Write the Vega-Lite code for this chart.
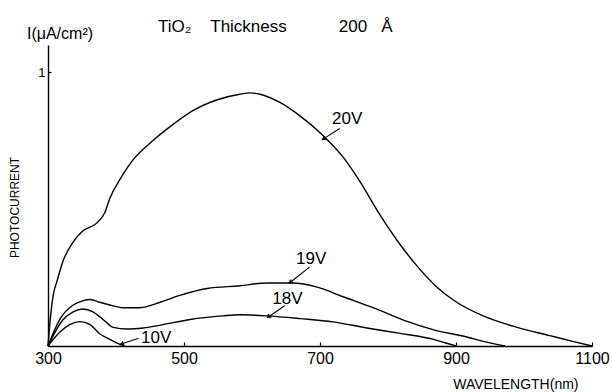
{
  "$schema": "https://vega.github.io/schema/vega-lite/v6.json",
  "width": 544,
  "height": 301,
  "autosize": "none",
  "padding": {"left": 48, "top": 45, "right": 20, "bottom": 46},
  "background": "white",
  "config": {"view": {"stroke": null}, "font": "Liberation Sans"},
  "title": {
    "text": "TiO₂\u00a0\u00a0\u00a0\u00a0Thickness\u00a0\u00a0\u00a0\u00a0\u00a0\u00a0\u00a0\u00a0\u00a0\u00a0\u00a0200\u00a0\u00a0\u00a0Å",
    "anchor": "start",
    "frame": "group",
    "dx": 110,
    "offset": 0,
    "dy": 23,
    "baseline": "alphabetic",
    "font": "Liberation Sans",
    "fontSize": 17,
    "fontWeight": "normal",
    "color": "black"
  },
  "datasets": {
    "curves": [
      {"wavelength": 300, "current": 0, "voltage": "20V"},
      {"wavelength": 303, "current": 0.09, "voltage": "20V"},
      {"wavelength": 308, "current": 0.19, "voltage": "20V"},
      {"wavelength": 313, "current": 0.235, "voltage": "20V"},
      {"wavelength": 322, "current": 0.31, "voltage": "20V"},
      {"wavelength": 337, "current": 0.38, "voltage": "20V"},
      {"wavelength": 351, "current": 0.42, "voltage": "20V"},
      {"wavelength": 372, "current": 0.45, "voltage": "20V"},
      {"wavelength": 384, "current": 0.49, "voltage": "20V"},
      {"wavelength": 391, "current": 0.54, "voltage": "20V"},
      {"wavelength": 406, "current": 0.61, "voltage": "20V"},
      {"wavelength": 425, "current": 0.68, "voltage": "20V"},
      {"wavelength": 454, "current": 0.75, "voltage": "20V"},
      {"wavelength": 484, "current": 0.81, "voltage": "20V"},
      {"wavelength": 513, "current": 0.86, "voltage": "20V"},
      {"wavelength": 549, "current": 0.9, "voltage": "20V"},
      {"wavelength": 582, "current": 0.92, "voltage": "20V"},
      {"wavelength": 597, "current": 0.925, "voltage": "20V"},
      {"wavelength": 612, "current": 0.92, "voltage": "20V"},
      {"wavelength": 641, "current": 0.89, "voltage": "20V"},
      {"wavelength": 671, "current": 0.84, "voltage": "20V"},
      {"wavelength": 704, "current": 0.77, "voltage": "20V"},
      {"wavelength": 734, "current": 0.69, "voltage": "20V"},
      {"wavelength": 759, "current": 0.6, "voltage": "20V"},
      {"wavelength": 788, "current": 0.48, "voltage": "20V"},
      {"wavelength": 818, "current": 0.37, "voltage": "20V"},
      {"wavelength": 847, "current": 0.28, "voltage": "20V"},
      {"wavelength": 872, "current": 0.215, "voltage": "20V"},
      {"wavelength": 901, "current": 0.16, "voltage": "20V"},
      {"wavelength": 940, "current": 0.11, "voltage": "20V"},
      {"wavelength": 990, "current": 0.068, "voltage": "20V"},
      {"wavelength": 1038, "current": 0.038, "voltage": "20V"},
      {"wavelength": 1070, "current": 0.018, "voltage": "20V"},
      {"wavelength": 1100, "current": 0, "voltage": "20V"},

      {"wavelength": 300, "current": 0, "voltage": "19V"},
      {"wavelength": 318, "current": 0.1, "voltage": "19V"},
      {"wavelength": 337, "current": 0.15, "voltage": "19V"},
      {"wavelength": 351, "current": 0.165, "voltage": "19V"},
      {"wavelength": 362, "current": 0.17, "voltage": "19V"},
      {"wavelength": 376, "current": 0.16, "voltage": "19V"},
      {"wavelength": 391, "current": 0.15, "voltage": "19V"},
      {"wavelength": 410, "current": 0.14, "voltage": "19V"},
      {"wavelength": 435, "current": 0.14, "voltage": "19V"},
      {"wavelength": 465, "current": 0.16, "voltage": "19V"},
      {"wavelength": 494, "current": 0.185, "voltage": "19V"},
      {"wavelength": 534, "current": 0.21, "voltage": "19V"},
      {"wavelength": 582, "current": 0.22, "voltage": "19V"},
      {"wavelength": 622, "current": 0.23, "voltage": "19V"},
      {"wavelength": 660, "current": 0.23, "voltage": "19V"},
      {"wavelength": 696, "current": 0.215, "voltage": "19V"},
      {"wavelength": 734, "current": 0.18, "voltage": "19V"},
      {"wavelength": 778, "current": 0.14, "voltage": "19V"},
      {"wavelength": 828, "current": 0.09, "voltage": "19V"},
      {"wavelength": 866, "current": 0.06, "voltage": "19V"},
      {"wavelength": 916, "current": 0.033, "voltage": "19V"},
      {"wavelength": 945, "current": 0.014, "voltage": "19V"},
      {"wavelength": 972, "current": 0, "voltage": "19V"},

      {"wavelength": 300, "current": 0, "voltage": "18V"},
      {"wavelength": 322, "current": 0.096, "voltage": "18V"},
      {"wavelength": 337, "current": 0.125, "voltage": "18V"},
      {"wavelength": 351, "current": 0.135, "voltage": "18V"},
      {"wavelength": 366, "current": 0.125, "voltage": "18V"},
      {"wavelength": 381, "current": 0.097, "voltage": "18V"},
      {"wavelength": 396, "current": 0.068, "voltage": "18V"},
      {"wavelength": 416, "current": 0.062, "voltage": "18V"},
      {"wavelength": 440, "current": 0.066, "voltage": "18V"},
      {"wavelength": 469, "current": 0.078, "voltage": "18V"},
      {"wavelength": 509, "current": 0.097, "voltage": "18V"},
      {"wavelength": 557, "current": 0.11, "voltage": "18V"},
      {"wavelength": 582, "current": 0.114, "voltage": "18V"},
      {"wavelength": 622, "current": 0.11, "voltage": "18V"},
      {"wavelength": 671, "current": 0.1, "voltage": "18V"},
      {"wavelength": 719, "current": 0.088, "voltage": "18V"},
      {"wavelength": 769, "current": 0.066, "voltage": "18V"},
      {"wavelength": 818, "current": 0.046, "voltage": "18V"},
      {"wavelength": 866, "current": 0.025, "voltage": "18V"},
      {"wavelength": 885, "current": 0.011, "voltage": "18V"},
      {"wavelength": 901, "current": 0, "voltage": "18V"},

      {"wavelength": 300, "current": 0, "voltage": "10V"},
      {"wavelength": 318, "current": 0.052, "voltage": "10V"},
      {"wavelength": 332, "current": 0.078, "voltage": "10V"},
      {"wavelength": 347, "current": 0.089, "voltage": "10V"},
      {"wavelength": 362, "current": 0.078, "voltage": "10V"},
      {"wavelength": 376, "current": 0.045, "voltage": "10V"},
      {"wavelength": 391, "current": 0.024, "voltage": "10V"},
      {"wavelength": 406, "current": 0.006, "voltage": "10V"},
      {"wavelength": 413, "current": 0, "voltage": "10V"}
    ],
    "labels": [
      {"label": "20V", "textX": 740, "textY": 0.83, "tailX": 729, "tailY": 0.795, "tipX": 705, "tipY": 0.757},
      {"label": "19V", "textX": 687, "textY": 0.319, "tailX": 685, "tailY": 0.289, "tipX": 656, "tipY": 0.232},
      {"label": "18V", "textX": 652, "textY": 0.173, "tailX": 648, "tailY": 0.147, "tipX": 624, "tipY": 0.106},
      {"label": "10V", "textX": 459, "textY": 0.031, "tailX": 433, "tailY": 0.028, "tipX": 408, "tipY": 0.007}
    ],
    "unit": [
      {"wavelength": 300, "current": 1.1, "text": "I(μA/cm²)"}
    ]
  },
  "layer": [
    {
      "data": {"name": "curves"},
      "mark": {"type": "line", "interpolate": "monotone", "color": "black", "strokeWidth": 1.4},
      "encoding": {
        "x": {
          "field": "wavelength", "type": "quantitative",
          "scale": {"domain": [300, 1100], "nice": false, "zero": false},
          "axis": {
            "title": "WAVELENGTH(nm)",
            "values": [300, 500, 700, 900, 1100],
            "format": "d",
            "grid": false,
            "domainColor": "black", "domainWidth": 1.4,
            "tickColor": "black", "tickSize": -4, "tickWidth": 1.2,
            "labelFont": "Liberation Sans", "labelFontSize": 16, "labelColor": "black",
            "labelPadding": 8, "labelFlush": false,
            "titleFont": "Liberation Sans", "titleFontSize": 14, "titleFontWeight": "normal", "titleColor": "black",
            "titleAnchor": null, "titleAlign": "right", "titleBaseline": "alphabetic",
            "titleX": 530, "titleY": 42
          }
        },
        "y": {
          "field": "current", "type": "quantitative",
          "scale": {"domain": [0, 1.1], "nice": false},
          "axis": {
            "title": "PHOTOCURRENT",
            "values": [1],
            "format": "d",
            "grid": false,
            "domainColor": "black", "domainWidth": 1.4,
            "tickColor": "black", "tickSize": -3, "tickWidth": 1.2,
            "labelFont": "Liberation Sans", "labelFontSize": 13, "labelColor": "black",
            "labelPadding": 6,
            "titleFont": "Liberation Sans", "titleFontSize": 12, "titleFontWeight": "normal", "titleColor": "black",
            "titleAngle": 270, "titleAnchor": null, "titleAlign": "center", "titleBaseline": "middle",
            "titleX": -34, "titleY": 162
          }
        },
        "detail": {"field": "voltage", "type": "nominal"}
      }
    },
    {
      "data": {"name": "labels"},
      "mark": {"type": "rule", "color": "black", "strokeWidth": 1.1},
      "encoding": {
        "x": {"field": "tailX", "type": "quantitative"},
        "y": {"field": "tailY", "type": "quantitative"},
        "x2": {"field": "tipX"},
        "y2": {"field": "tipY"}
      }
    },
    {
      "data": {"name": "labels"},
      "mark": {"type": "text", "font": "Liberation Sans", "fontSize": 17, "color": "black", "align": "center", "baseline": "middle"},
      "encoding": {
        "x": {"field": "textX", "type": "quantitative"},
        "y": {"field": "textY", "type": "quantitative"},
        "text": {"field": "label"}
      }
    },
    {
      "data": {"name": "labels"},
      "transform": [{"filter": "datum.label == '20V'"}],
      "mark": {"type": "point", "shape": "triangle-up", "filled": true, "color": "black", "size": 28, "opacity": 1, "angle": 235},
      "encoding": {
        "x": {"field": "tipX", "type": "quantitative"},
        "y": {"field": "tipY", "type": "quantitative"}
      }
    },
    {
      "data": {"name": "labels"},
      "transform": [{"filter": "datum.label == '19V'"}],
      "mark": {"type": "point", "shape": "triangle-up", "filled": true, "color": "black", "size": 28, "opacity": 1, "angle": 230},
      "encoding": {
        "x": {"field": "tipX", "type": "quantitative"},
        "y": {"field": "tipY", "type": "quantitative"}
      }
    },
    {
      "data": {"name": "labels"},
      "transform": [{"filter": "datum.label == '18V'"}],
      "mark": {"type": "point", "shape": "triangle-up", "filled": true, "color": "black", "size": 28, "opacity": 1, "angle": 233},
      "encoding": {
        "x": {"field": "tipX", "type": "quantitative"},
        "y": {"field": "tipY", "type": "quantitative"}
      }
    },
    {
      "data": {"name": "labels"},
      "transform": [{"filter": "datum.label == '10V'"}],
      "mark": {"type": "point", "shape": "triangle-up", "filled": true, "color": "black", "size": 28, "opacity": 1, "angle": 251},
      "encoding": {
        "x": {"field": "tipX", "type": "quantitative"},
        "y": {"field": "tipY", "type": "quantitative"}
      }
    },
    {
      "data": {"name": "unit"},
      "mark": {"type": "text", "font": "Liberation Sans", "fontSize": 16, "color": "black", "align": "center", "baseline": "middle", "dx": 12, "dy": -11},
      "encoding": {
        "x": {"field": "wavelength", "type": "quantitative"},
        "y": {"field": "current", "type": "quantitative"},
        "text": {"field": "text"}
      }
    }
  ]
}
